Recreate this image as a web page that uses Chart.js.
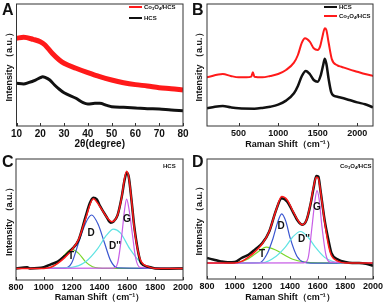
<!DOCTYPE html>
<html>
<head>
<meta charset="utf-8">
<script src="https://cdn.jsdelivr.net/npm/chart.js@4.4.0/dist/chart.umd.min.js"></script>
<style>
body { margin:0; background:#fff; width:387px; height:305px; position:relative; overflow:hidden; font-family:"Liberation Sans", Arial, sans-serif; }
canvas { position:absolute; }
.panel { position:absolute; font-weight:bold; font-size:16px; color:#111; line-height:1; }
.leg { position:absolute; font-weight:bold; font-size:6px; color:#111; line-height:1; white-space:nowrap; }
.leg sub { font-size:4px; vertical-align:-1px; }
.swatch { position:absolute; height:2px; }
.pk { position:absolute; font-weight:bold; font-size:10px; color:#111; transform:translate(-50%,-50%); line-height:1; }
</style>
</head>
<body>
<canvas id="chartA" style="left:0;top:0" width="193" height="152"></canvas>
<canvas id="chartB" style="left:190px;top:0" width="197" height="152"></canvas>
<canvas id="chartC" style="left:0;top:152px" width="197" height="153"></canvas>
<canvas id="chartD" style="left:190px;top:152px" width="197" height="153"></canvas>

<div class="panel" style="left:2px;top:2px">A</div>
<div class="panel" style="left:192px;top:2px">B</div>
<div class="panel" style="left:2px;top:154px">C</div>
<div class="panel" style="left:192px;top:154px">D</div>

<!-- legends -->
<div class="swatch" style="left:129px;top:6px;width:13px;background:#ff1a1a"></div>
<div class="leg" style="left:144px;top:4px">Co<sub>3</sub>O<sub>4</sub>/HCS</div>
<div class="swatch" style="left:129px;top:17px;width:13px;background:#111"></div>
<div class="leg" style="left:144px;top:15px">HCS</div>

<div class="swatch" style="left:324px;top:6px;width:13px;background:#111"></div>
<div class="leg" style="left:339px;top:4px">HCS</div>
<div class="swatch" style="left:324px;top:15px;width:13px;background:#ff1a1a"></div>
<div class="leg" style="left:339px;top:13px">Co<sub>3</sub>O<sub>4</sub>/HCS</div>

<div class="leg" style="left:163px;top:163px">HCS</div>
<div class="leg" style="left:340px;top:163px">Co<sub>3</sub>O<sub>4</sub>/HCS</div>

<!-- peak labels -->
<div class="pk" style="left:71px;top:256px">T</div>
<div class="pk" style="left:91px;top:233px">D</div>
<div class="pk" style="left:115px;top:246px">D''</div>
<div class="pk" style="left:127px;top:219px">G</div>
<div class="pk" style="left:262px;top:254px">T</div>
<div class="pk" style="left:281px;top:226px">D</div>
<div class="pk" style="left:304px;top:239px">D''</div>
<div class="pk" style="left:317px;top:207px">G</div>

<script>
// ---- panel A : XRD ----
var aCoAngle = [10,13,17,20,22,25,28,30,35,40,45,50,55,60,65,70,75,80];
var aCoInt   = [71.9,72.7,71,69.1,66.4,59.6,54.1,51.4,47.3,43.7,40.4,37.7,35.5,33.9,32.8,31.4,30.6,29.5];
var aHcsAngle = [10,13,15,18,20,21,22,24,26,28,30,35,38,40,43,45,48,50,55,60,65,70,75,80];
var aHcsInt   = [35.0,34.4,35.5,37.7,39.6,40.4,39.9,37.7,33.6,30.1,27.3,22.7,19.1,18.0,18.6,18.6,16.9,15.8,15.3,14.8,14.2,13.9,13.1,12.6];
var aTicks = [10,20,30,40,50,60,70,80];

// ---- panel B : Raman ----
var bCoShift = [100,300,400,500,600,660,680,700,800,900,1000,1100,1200,1250,1300,1340,1400,1450,1500,1530,1560,1590,1610,1640,1680,1750,1800,1900,2000,2100,2200];
var bCoInt   = [39.9,42.6,41.0,39.9,39.9,40.5,44.0,40.4,39.9,41.0,42.6,45.9,51.9,58.2,68.3,71.9,69.1,63.7,62.3,65.0,73.2,80.1,78.7,67.8,54.6,49.7,48.6,46.4,44.5,42.6,41.0];
var bHcsShift = [100,200,300,400,500,700,800,900,1000,1100,1200,1250,1300,1350,1400,1450,1500,1540,1570,1590,1610,1640,1670,1700,1750,1800,1900,2000,2100,2200];
var bHcsInt   = [14.5,15.8,16.4,15.3,14.5,14.2,14.8,15.8,17.5,20.8,26.8,32.8,41.0,45.1,42.6,37.7,36.3,41.8,50.0,55.2,51.0,38.0,28.0,25.0,24.0,23.2,21.3,19.4,17.8,15.3];
var bTicks = [500,1000,1500,2000];

// ---- panel C : HCS fit ----
var cDataShift = [800,880,900,1000,1050,1100,1150,1200,1250,1300,1330,1355,1380,1400,1450,1480,1500,1530,1560,1580,1595,1610,1630,1650,1680,1700,1750,1800,1900,2000];
var cDataInt   = [9.6,10.5,9.6,10.5,12.9,15.2,19.8,25.3,33.1,52.3,63.4,68.0,66.7,62.0,52.3,47.4,48.2,53.7,68.9,82.6,88.7,85.4,66.1,44.1,22.0,13.8,11.0,9.6,9.4,9.6];
var cFitShift = [800,1000,1050,1100,1150,1200,1250,1300,1355,1400,1450,1490,1530,1560,1580,1595,1610,1630,1650,1680,1700,1750,1800,2000];
var cFitInt   = [9.6,9.6,10.5,13.8,18.5,24.8,33.6,50.7,67.2,61.2,52.3,48.2,53.7,68.9,83.9,89.8,85.1,66.1,42.7,22.0,15.2,11.0,9.6,9.6];
var cTShift = [800,1000,1050,1100,1150,1200,1250,1300,1350,1400,1450,2000];
var cTInt   = [9.6,9.6,10.5,14,21,25.3,22,15,11,9.8,9.6,9.6];
var cDShift = [800,1150,1200,1250,1300,1343,1390,1435,1480,1530,2000];
var cDInt   = [9.6,9.8,14,31,47,53.7,46,31,16,10,9.6];
var cDppShift = [800,1200,1300,1387,1450,1500,1550,1617,1700,1780,2000];
var cDppInt   = [9.6,10.5,15,25.9,37,42.1,39,25.9,14,10.2,9.6];
var cGShift = [800,1500,1530,1561,1580,1595,1610,1636,1660,1690,2000];
var cGInt   = [9.6,9.8,14,38,58,66.9,60,38,18,10.5,9.6];

// ---- panel D : Co3O4/HCS fit ----
var dDataShift = [800,850,900,950,1000,1050,1100,1150,1200,1250,1300,1340,1380,1420,1460,1490,1520,1550,1570,1590,1605,1620,1650,1680,1700,1750,1800,1850,1900,1950,2000];
var dDataInt   = [17.5,16.1,14.7,13.9,14.1,17.5,20.2,24.9,29.9,39.6,57.6,67.3,64.5,56.2,47.9,45.2,49.3,63.2,75.6,85.9,85.3,74.2,49.3,31.3,21.6,16.1,14.1,13.3,13.3,12.7,11.1];
var dFitShift = [800,1000,1050,1100,1150,1200,1250,1300,1340,1380,1420,1460,1490,1520,1550,1570,1590,1605,1620,1650,1680,1700,1750,1800,2000];
var dFitInt   = [13.3,13.3,14.7,18.3,23.0,29.4,39.6,57.6,68.7,65.9,56.8,48.5,45.2,49.3,63.7,76.5,84.8,83.9,73.7,47.9,27.1,19.4,14.7,13.3,13.3];
var dTShift = [800,1000,1100,1150,1230,1300,1360,1420,1500,1600,2000];
var dTInt   = [13.3,13.6,17,21,26.6,24,20,16.5,14.2,13.4,13.3];
var dDShift = [800,1180,1230,1277,1310,1340,1370,1402,1450,1500,1550,2000];
var dDInt   = [13.3,13.6,20,33.8,47,54.3,48,33.8,19,14,13.3,13.3];
var dDppShift = [800,1200,1300,1366,1420,1475,1530,1583,1650,1720,1800,2000];
var dDppInt   = [13.3,13.6,19,26.5,35,39.6,35,26.5,18,14.2,13.3,13.3];
var dGShift = [800,1500,1530,1559,1580,1595,1610,1631,1660,1690,2000];
var dGInt   = [13.3,13.5,17,43.5,65,73.7,67,43.5,20,14,13.3];
var cdTicks = [800,1000,1200,1400,1600,1800,2000];

var RED = '#ff1a1a', BLACK = '#111111';
var GREEN = '#7ad62a', BLUE = '#3a56d0', CYAN = '#5fe3e3', VIOLET = '#c75ee6';

Chart.defaults.font.family = '"Liberation Sans", Arial, sans-serif';
Chart.defaults.color = '#111';

function pts(xs, ys) {
    return xs.map(function(x, i) { return {x: x, y: ys[i]}; });
}

function line(xs, ys, color, width) {
    return {
        data: pts(xs, ys),
        borderColor: color,
        borderWidth: width,
        pointRadius: 0,
        fill: false,
        cubicInterpolationMode: 'monotone'
    };
}

//frame around the plot area plus small inward ticks on the bottom axis
var framePlugin = {
    id: 'frame',
    afterDatasetsDraw: function(chart) {
        var a = chart.chartArea, ctx = chart.ctx, xs = chart.scales.x;
        ctx.save();
        ctx.strokeStyle = '#333';
        ctx.lineWidth = 1;
        ctx.strokeRect(a.left, a.top, a.right - a.left, a.bottom - a.top);
        ctx.beginPath();
        xs.ticks.forEach(function(t) {
            var px = Math.round(xs.getPixelForValue(t.value)) + 0.5;
            ctx.moveTo(px, a.bottom);
            ctx.lineTo(px, a.bottom - 3);
        });
        ctx.stroke();
        ctx.restore();
    }
};

function makePanel(id, datasets, opt) {
    return new Chart(document.getElementById(id), {
        type: 'line',
        data: { datasets: datasets },
        options: {
            responsive: false,
            animation: false,
            layout: { padding: { top: opt.top, right: opt.right, left: 0, bottom: 0 } },
            plugins: { legend: { display: false }, tooltip: { enabled: false } },
            scales: {
                x: {
                    type: 'linear',
                    min: opt.xMin,
                    max: opt.xMax,
                    grid: { display: false, drawTicks: false },
                    border: { display: false },
                    afterBuildTicks: function(s) { s.ticks = opt.ticks.map(function(v) { return {value: v}; }); },
                    afterFit: function(s) { s.height = opt.xHeight; },
                    ticks: {
                        padding: 2,
                        maxRotation: 0,
                        font: { size: opt.tickSize, weight: 'bold' },
                        callback: function(v) { return String(v); }
                    },
                    title: { display: true, text: opt.xTitle, padding: { top: 0, bottom: 2 }, font: { size: opt.titleSize, weight: 'bold' } }
                },
                y: {
                    min: 0,
                    max: 100,
                    grid: { display: false },
                    border: { display: false },
                    ticks: { display: false },
                    afterFit: function(s) { s.width = opt.yWidth; },
                    title: { display: true, text: 'Intensity （a.u.）', padding: { top: 4, bottom: 0 }, font: { size: 9, weight: 'bold' } }
                }
            }
        },
        plugins: [framePlugin]
    });
}

makePanel('chartA', [
    line(aCoAngle, aCoInt, RED, 5),
    line(aHcsAngle, aHcsInt, BLACK, 3)
], { xMin: 10, xMax: 80, ticks: aTicks, xTitle: '2θ(degree)', top: 4, right: 10, xHeight: 26, yWidth: 16.5, tickSize: 10, titleSize: 10 });

makePanel('chartB', [
    line(bCoShift, bCoInt, RED, 2),
    line(bHcsShift, bHcsInt, BLACK, 2.5)
], { xMin: 100, xMax: 2200, ticks: bTicks, xTitle: 'Raman Shift（cm⁻¹）', top: 4, right: 14, xHeight: 26, yWidth: 17, tickSize: 9, titleSize: 9 });

makePanel('chartC', [
    line(cFitShift, cFitInt, RED, 1.5),
    line(cDataShift, cDataInt, BLACK, 2.5),
    line(cGShift, cGInt, VIOLET, 1.2),
    line(cDppShift, cDppInt, CYAN, 1.2),
    line(cDShift, cDInt, BLUE, 1.2),
    line(cTShift, cTInt, GREEN, 1.2)
], { xMin: 800, xMax: 2000, ticks: cdTicks, xTitle: 'Raman Shift（cm⁻¹）', top: 7, right: 14, xHeight: 25, yWidth: 16, tickSize: 9, titleSize: 9 });

makePanel('chartD', [
    line(dFitShift, dFitInt, RED, 1.5),
    line(dDataShift, dDataInt, BLACK, 2.5),
    line(dGShift, dGInt, VIOLET, 1.2),
    line(dDppShift, dDppInt, CYAN, 1.2),
    line(dDShift, dDInt, BLUE, 1.2),
    line(dTShift, dTInt, GREEN, 1.2)
], { xMin: 800, xMax: 2000, ticks: cdTicks, xTitle: 'Raman Shift（cm⁻¹）', top: 7, right: 14, xHeight: 26, yWidth: 17, tickSize: 9, titleSize: 9 });
</script>
</body>
</html>
